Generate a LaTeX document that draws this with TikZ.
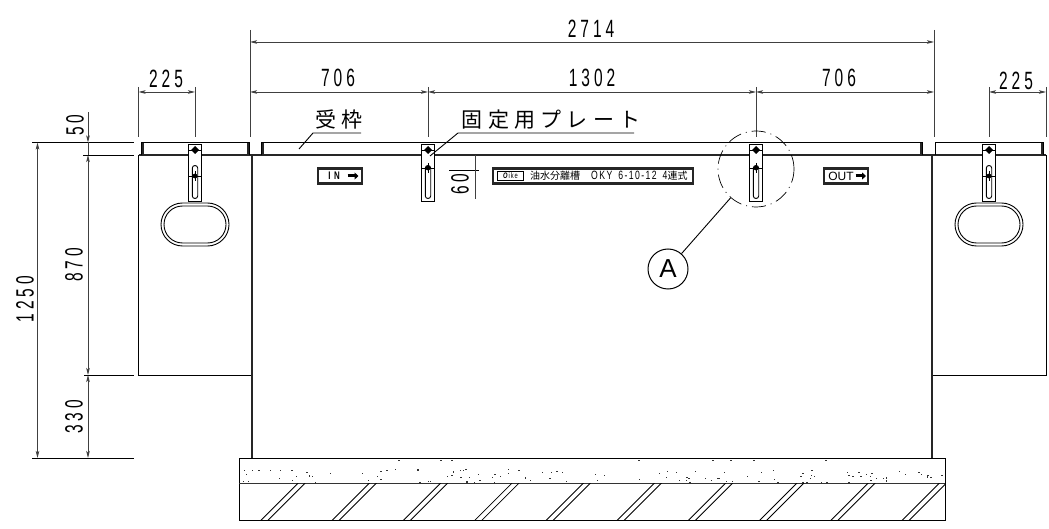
\documentclass[tikz,border=0pt]{standalone}
\usepackage{fontspec}
\usetikzlibrary{arrows.meta}
\newfontfamily\dimfont[FakeStretch=0.62,LetterSpace=16]{Liberation Sans}
\newfontfamily\platefont[FakeStretch=0.72,LetterSpace=12]{Liberation Sans}
\newfontfamily\labelfont{Liberation Sans}
\newfontfamily\cjkfont[LetterSpace=25]{Noto Sans CJK JP}
\newfontfamily\cjkplate{Noto Sans CJK JP}
\tikzset{
  dimline/.style={black!75, line width=0.8pt, {Stealth[length=7pt,width=3.5pt,inset=1.5pt]}-{Stealth[length=7pt,width=3.5pt,inset=1.5pt]}},
  extline/.style={black!75, line width=0.7pt},
  refline/.style={black, line width=0.9pt},
  wall/.style={black, line width=0.9pt},
  thickwall/.style={black!85, line width=2pt},
  dimtext/.style={font=\dimfont\fontsize{25}{25}\selectfont, inner sep=0pt},
  plateframe/.style={draw=black!85, line width=2.8pt, fill=white}
}
\begin{document}
\begin{tikzpicture}[x=1pt, y=-1pt]
    \useasboundingbox (0,0) rectangle (1049,529);

    % Side tanks
    \draw[wall] (138.5,155) -- (138.5,375) -- (252,375);
    \draw[wall] (1046,155) -- (1046,375) -- (932,375);

    % Main tank walls
    \draw[thickwall] (252,155) -- (252,458);
    \draw[thickwall] (932,155) -- (932,458);
    \draw[thickwall] (139,155) -- (1046,155);

    % Lids
    \foreach \xa/\xb in {141/249, 261.5/922, 935.5/1043} {
        \draw[wall] (\xa,155) -- (\xa,142.5) -- (\xb,142.5) -- (\xb,155);
    }
    \draw[thickwall] (142.5,143) -- (142.5,155);
    \draw[thickwall] (248,143) -- (248,155);
    \draw[thickwall] (262.5,143) -- (262.5,155);
    \draw[thickwall] (921,143) -- (921,155);
    \draw[thickwall] (1042,143) -- (1042,155);

    % Hand holes
    \foreach \x in {195, 989} {
        \draw[wall, rounded corners=21.5pt] (\x-34,203) rectangle (\x+34,246);
        \draw[wall, rounded corners=18.5pt] (\x-31,206) rectangle (\x+31,243);
    }

    % Fixing plates (x / screw y)
    \foreach \x/\s in {195/176, 428/168, 756/168, 989/176} {
        \draw[wall, fill=white] (\x-6.5,144) rectangle (\x+6.5,201.5);
        \draw[wall, rounded corners=2.6pt] (\x-2.7,165.5) rectangle (\x+2.7,198.5);
        \fill (\x,146) -- (\x+4,150) -- (\x,154) -- (\x-4,150) -- cycle;
        \draw[line width=0.6pt] (\x-6,150) -- (\x+6,150);
        \fill (\x,\s) circle (2.4pt);
        \draw[line width=0.6pt] (\x-6,\s) -- (\x+6,\s) (\x,\s-5) -- (\x,\s+5);
    }

    % Base
    \draw[wall] (239,458) rectangle (945,520.5);
    \draw[black!80, line width=1pt] (239,483) -- (945,483);
    \begin{scope}
        \clip (239,483) rectangle (945,520.5);
        \foreach \x in {260.7,332,403.3,474.6,546,617,688.3,759.5,830.8,902} {
            \draw[line width=0.8pt] (\x,520.5) -- (\x+37.5,483);
            \draw[line width=0.8pt] (\x+7,520.5) -- (\x+44.5,483);
        }
    \end{scope}
    % Concrete speckle
    \pgfmathsetseed{4711}
    \foreach \i in {1,...,120} {
        \pgfmathsetmacro{\dotx}{241+rnd*702}
        \pgfmathsetmacro{\doty}{469+rnd*13.5}
        \fill[black!80] (\dotx,\doty) rectangle (\dotx+1.3,\doty+1.1);
    }
    \foreach \x in {398,440,451,638,712,730,753,825} {
        \fill[black!80] (\x,459.5) rectangle (\x+1.6,460.7);
    }

    % Name plates
    \node[plateframe, minimum width=44pt, minimum height=15pt, inner sep=0pt] (inplate) at (340,176) {};
    \node[inner sep=0pt, font=\platefont\bfseries\fontsize{11}{11}\selectfont] (intext) at (334,175.5) {I N};
    \draw[line width=3pt, -{Triangle[length=4pt,width=7pt]}] (347.5,176) -- (358.5,176);
    \node[plateframe, minimum width=44pt, minimum height=15pt, inner sep=0pt] (outplate) at (846,176) {};
    \node[inner sep=0pt, font=\labelfont\fontsize{12}{12}\selectfont] (outtext) at (841,176) {OUT};
    \draw[line width=3pt, -{Triangle[length=4pt,width=7pt]}] (855.5,176) -- (866,176);
    \node[plateframe, minimum width=200pt, minimum height=15.5pt, inner sep=0pt] (nameplate) at (593,176) {};
    \node[draw, line width=0.9pt, minimum width=26pt, minimum height=9.5pt, inner sep=0pt, font=\platefont\fontsize{8}{8}\selectfont] (logo) at (510.5,176) {\textbf{\textit{O}}ike};
    \node[inner sep=0pt, anchor=west, font=\fontsize{10}{10}\selectfont] (nametext) at (530,176)
        {{\cjkplate 油水分離槽}\hspace{11pt}{\platefont\fontsize{12}{12}\selectfont OKY\hspace{6pt}6-10-12\hspace{6pt}4}{\cjkplate 連式}};

    % Horizontal dimensions
    \foreach \xa/\xb/\y in {250/934/42, 250/428/92, 428/756/92, 756/934/92, 138.5/195/92, 989/1046/92} {
        \draw[dimline] (\xa,\y) -- (\xb,\y);
    }
    \draw[extline] (250,30) -- (250,137);
    \draw[extline] (934,30) -- (934,137);
    \foreach \x in {138.5,195,428,756,989,1046} {
        \draw[extline] (\x,87) -- (\x,137);
    }

    % Vertical dimensions
    \draw[refline] (32,142.5) -- (134,142.5);
    \draw[refline] (83,155) -- (134,155);
    \draw[refline] (84,375) -- (134,375);
    \draw[refline] (32,458) -- (134,458);
    \draw[dimline] (37.5,142.5) -- (37.5,458);
    \draw[dimline] (88,155) -- (88,375);
    \draw[dimline] (88,375) -- (88,458);
    \draw[dimline, {Stealth[length=7pt,width=3.5pt,inset=1.5pt]}-] (88,142.5) -- (88,112);
    \draw[dimline, -] (88,142.5) -- (88,155);

    % Dimension 60
    \draw[refline] (449,170) -- (479,170);
    \draw[extline, line width=1pt] (475,155) -- (475,199);

    % Dimension texts
    \foreach \x/\y/\r/\t/\n in {591/29/0/2714/dimtotal, 338/78/0/706/dimleft, 592/78/0/1302/dimmid, 839/78/0/706/dimright,
        166/79/0/225/dimsideleft, 1016/81/0/225/dimsideright, 75/125/90/50/dimlid, 74/265/90/870/dimtank,
        25/299/90/1250/dimheight, 74/417/90/330/dimfoot, 460/184/90/60/dimslot} {
        \node[dimtext, rotate=\r] (\n) at (\x,\y) {\t};
    }

    % Part labels with leaders
    \node[inner sep=0pt, font=\cjkfont\fontsize{21}{21}\selectfont] (lidlabel) at (339,119.5) {受枠};
    \coordinate (lidul) at (313,133);
    \coordinate (lidur) at (361,133);
    \coordinate (lidend) at (299,149);
    \draw[refline] (lidend) -- (lidul) -- (lidur);

    \node[inner sep=0pt, font=\cjkfont\fontsize{21}{21}\selectfont] (platelabel) at (551,119.5) {固定用プレート};
    \coordinate (plateul) at (458,133);
    \coordinate (plateur) at (634,133);
    \coordinate (plateend) at (430,156);
    \draw[refline] (plateend) -- (plateul) -- (plateur);

    % Detail A
    \node[circle, draw, line width=0.7pt, dash pattern=on 14pt off 5pt on 1pt off 5pt, minimum size=76pt, inner sep=0pt] (detail) at (756,169) {};
    \node[circle, draw, line width=1pt, minimum size=40pt, inner sep=0pt, font=\labelfont\fontsize{26}{26}\selectfont] (markA) at (668,269) {A};
    \draw[refline] (detail) -- (markA);
\end{tikzpicture}
\end{document}
